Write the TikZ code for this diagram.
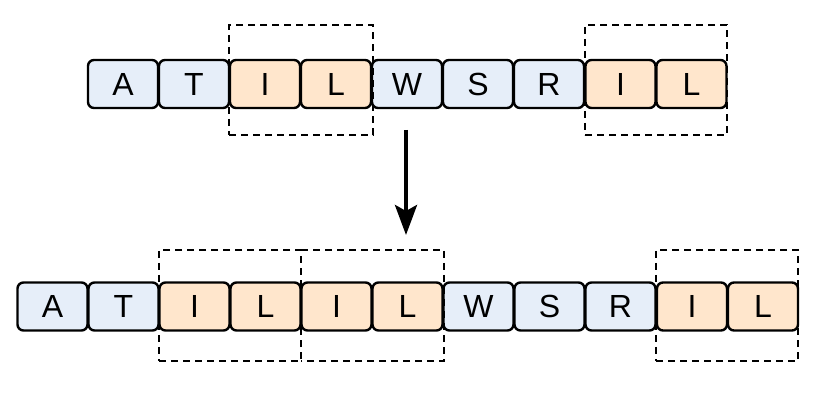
\documentclass[tikz,border=0pt]{standalone}
\usepackage{fontspec}
\setmainfont{Liberation Sans}
\usetikzlibrary{arrows.meta, fit}

\definecolor{cellblue}{HTML}{E6EEF9}
\definecolor{cellorange}{HTML}{FFE6CC}

\tikzset{
  cell/.style={rectangle, rounded corners=3pt, draw=black, line width=1.2pt,
    minimum width=35pt, minimum height=24pt, inner sep=0pt,
    font=\fontsize{16}{19}\selectfont},
  plain/.style={cell, fill=cellblue},
  match/.style={cell, fill=cellorange},
  window/.style={rectangle, draw=black, line width=1.1pt, dash pattern=on 3.5pt off 2.5pt,
    inner sep=0pt, outer sep=0pt},
}

\begin{document}
\begin{tikzpicture}[x=0.5pt, y=-0.5pt]
\useasboundingbox (0,0) rectangle (830,411);

% before
\node[plain] (t1) at (123,84) {A};
\node[plain] (t2) at (194,84) {T};
\node[match] (t3) at (265,84) {I};
\node[match] (t4) at (336,84) {L};
\node[plain] (t5) at (407,84) {W};
\node[plain] (t6) at (478,84) {S};
\node[plain] (t7) at (549,84) {R};
\node[match] (t8) at (620.5,84) {I};
\node[match] (t9) at (691.5,84) {L};

\node[window, fit={(229,25) (373,135)}] (tw1) {};
\node[window, fit={(585,25) (727,135)}] (tw2) {};

% after
\node[plain] (b1) at (52.5,306.5) {A};
\node[plain] (b2) at (123.5,306.5) {T};
\node[match] (b3) at (194.5,306.5) {I};
\node[match] (b4) at (265.5,306.5) {L};
\node[match] (b5) at (336.5,306.5) {I};
\node[match] (b6) at (407.5,306.5) {L};
\node[plain] (b7) at (478.5,306.5) {W};
\node[plain] (b8) at (549.5,306.5) {S};
\node[plain] (b9) at (620.5,306.5) {R};
\node[match] (b10) at (692,306.5) {I};
\node[match] (b11) at (763,306.5) {L};

\node[window, fit={(159,250) (301,361)}] (bw1) {};
\node[window, draw=none, fit={(301,250) (444,361)}] (bw2) {};
\draw[window] (bw2.north west) -| (bw2.south east) -- (bw2.south west); % left side shared with bw1
\node[window, fit={(656,250) (798,361)}] (bw3) {};

\coordinate (from) at (406,130);
\coordinate (to) at (406,235);
\draw[-{Stealth[length=15pt, width=11pt, inset=3pt]}, line width=2pt] (from) -- (to);
\end{tikzpicture}
\end{document}
